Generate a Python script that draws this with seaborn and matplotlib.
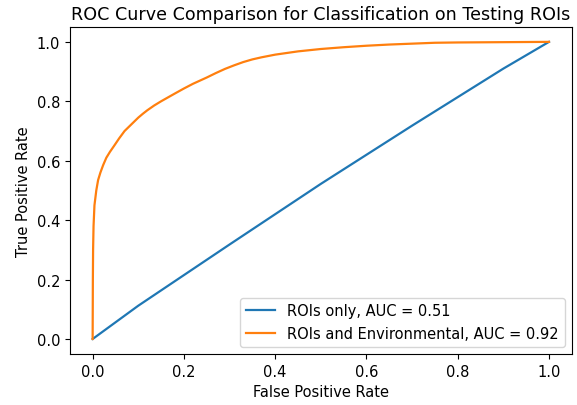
import numpy as np
import pandas as pd
import matplotlib
matplotlib.use("Agg")
import matplotlib.pyplot as plt
import seaborn as sns

# Data
fpr_rois = [0.0, 0.1, 0.3, 0.5, 0.7, 0.9, 1.0]
tpr_rois = [0.0, 0.112, 0.318, 0.522, 0.718, 0.910, 1.0]

fpr_env = [0.0, 0.0005, 0.001, 0.002, 0.004, 0.008, 0.012, 0.017, 0.023, 0.03, 0.038,
           0.047, 0.058, 0.07, 0.08, 0.09, 0.1, 0.11, 0.12, 0.135, 0.15, 0.165, 0.18,
           0.2, 0.22, 0.25, 0.27, 0.29, 0.31, 0.33, 0.35, 0.37, 0.4, 0.45, 0.5, 0.55,
           0.6, 0.65, 0.7, 0.75, 0.8, 0.9, 1.0]
tpr_env = [0.0, 0.2, 0.3, 0.38, 0.45, 0.50, 0.535, 0.56, 0.585, 0.61, 0.63,
           0.65, 0.675, 0.70, 0.715, 0.73, 0.745, 0.758, 0.77, 0.786, 0.80, 0.813, 0.826,
           0.843, 0.859, 0.88, 0.895, 0.909, 0.921, 0.932, 0.941, 0.948, 0.957, 0.968,
           0.976, 0.982, 0.987, 0.991, 0.994, 0.997, 0.998, 0.999, 1.0]

labels = ["ROIs only, AUC = 0.51", "ROIs and Environmental, AUC = 0.92"]

df = pd.concat([
    pd.DataFrame({"fpr": fpr_rois, "tpr": tpr_rois, "model": labels[0]}),
    pd.DataFrame({"fpr": fpr_env, "tpr": tpr_env, "model": labels[1]}),
], ignore_index=True)

plt.rcParams["font.size"] = 10.5
fig = plt.figure(figsize=(5.77, 4.06), dpi=100)
ax = fig.add_axes([0.121, 0.126, 0.870, 0.805])
sns.lineplot(data=df, x="fpr", y="tpr", hue="model", hue_order=labels,
             palette=["#1f77b4", "#ff7f0e"], sort=False, estimator=None,
             linewidth=1.6, ax=ax)
ax.set_xlabel("False Positive Rate", fontsize=10.5)
ax.set_ylabel("True Positive Rate", fontsize=10.5)
ax.set_title("ROC Curve Comparison for Classification on Testing ROIs", fontsize=12.6)
ax.set_xticks([0.0, 0.2, 0.4, 0.6, 0.8, 1.0])
ax.set_yticks([0.0, 0.2, 0.4, 0.6, 0.8, 1.0])
ax.tick_params(labelsize=10.5)
ax.legend(loc="lower right", title=None, fontsize=10.5)
fig.savefig("out.png", dpi=100)
